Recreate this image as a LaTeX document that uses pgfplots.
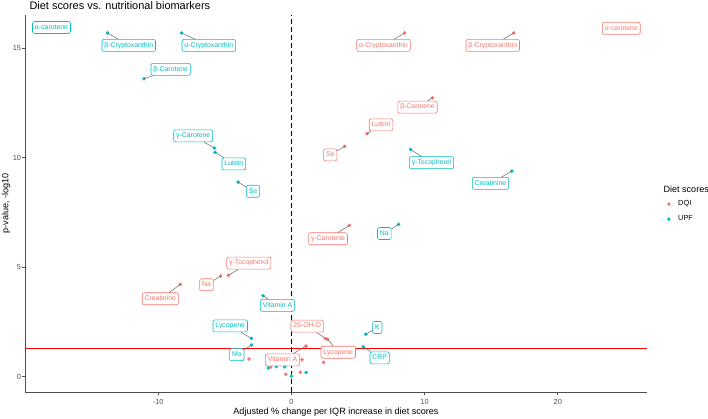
\documentclass[border=0pt]{standalone}
\usepackage{pgfplots}
\pgfplotsset{compat=1.18}
\usepackage{fontspec}
\setmainfont{Liberation Sans}

\definecolor{dqi}{HTML}{F8766D}
\definecolor{upf}{HTML}{00BFC4}
\definecolor{axgray}{HTML}{4D4D4D}

% anchor for a label (l-name) and for its point (p-name), set inside the axis
\newcommand{\at}[5]{\coordinate (l-#1) at (axis cs:#2,#3); \coordinate (p-#1) at (axis cs:#4,#5);}
% label box drawn after the axis: name, colour, text
\newcommand{\lab}[3]{%
  \node[draw=#2, text=#2, fill=white, rounded corners=2bp, line width=0.6bp,
        inner xsep=2.45bp, inner ysep=2.8bp, text height=5bp, text depth=1.4bp,
        font=\fontsize{6.9}{7}\selectfont] (#1) at (l-#1) {#3};}
\newcommand{\seg}[1]{\draw[gray!80!black, line width=0.5bp] (p-#1) -- (#1);}

\begin{document}
\begin{tikzpicture}
\path[use as bounding box] (-25bp,-26.7bp) rectangle (683bp,392.3bp);
\begin{axis}[
  scale only axis,
  width=622bp, height=377.3bp,
  xmin=-20, xmax=26.7,
  ymin=-0.71, ymax=16.52,
  axis x line*=bottom, axis y line*=left,
  axis line style={axgray, line width=0.7bp},
  tick align=outside,
  major tick length=3bp,
  tick style={axgray, line width=0.6bp},
  xtick={-10,0,10,20}, ytick={0,5,10,15},
  /pgf/number format/assume math mode=true,
  ticklabel style={font=\fontsize{7.4}{8}\selectfont, text=axgray},
  xticklabel style={inner ysep=3.5bp},
  yticklabel style={inner xsep=0.8bp},
  clip=false,
  legend style={draw=none, fill=none, at={(axis description cs:1.032,0.479)},
    anchor=west, font=\fontsize{7.4}{8}\selectfont, row sep=4.5bp,
    inner sep=0pt},
  legend cell align=left,
]
% reference lines
\draw[red, line width=0.9bp] (axis cs:-20,1.301) -- (axis cs:26.7,1.301);
\draw[black, line width=1.3bp, dash pattern=on 5bp off 3bp] (axis cs:0,-0.71) -- (axis cs:0,16.52);

% DQI
\addplot[only marks, mark=*, mark size=1.6bp, color=dqi, mark options={draw=dqi, fill=dqi},
  legend image code/.code={\path[draw=none, fill=none] (0,0) -- (9bp,0); \fill[dqi] (1.7bp,0) circle (1.6bp);}]
  coordinates {
  (24.6,15.8) (8.5,15.7) (16.7,15.7) (10.6,12.74) (5.68,11.1) (4.0,10.52)
  (4.35,6.91) (-4.73,4.63) (-5.3,4.6) (-8.33,4.22) (-3.18,0.81)
  (2.58,1.74) (2.72,1.71) (1.1,1.40) (2.42,0.66) (-1.55,0.44)
  (-0.42,0.11) (0.68,0.2) (0.8,0.78)
  };
% UPF
\addplot[only marks, mark=*, mark size=1.6bp, color=upf, mark options={draw=upf, fill=upf},
  legend image code/.code={\path[draw=none, fill=none] (0,0) -- (9bp,0); \fill[upf] (1.7bp,0) circle (1.6bp);}]
  coordinates {
  (-17.9,15.8) (-13.8,15.7) (-8.25,15.7) (-11.07,13.61) (-5.78,10.44)
  (-5.73,10.25) (-4.0,8.89) (-2.13,3.70) (-3.0,1.75) (-3.0,1.45)
  (-1.73,0.40) (-1.13,0.46) (-0.5,0.46) (0.0,0.03) (1.1,0.2)
  (5.58,1.94) (5.4,1.37) (8.05,6.96) (8.95,10.38) (16.55,9.39)
  };
\legend{DQI,UPF}

% label positions and their points
\at{ua}{-18.01}{15.95}{-17.9}{15.8}
\at{ubc}{-12.21}{15.13}{-13.8}{15.7}
\at{uac}{-6.2}{15.13}{-8.25}{15.7}
\at{ubca}{-9.06}{14.04}{-11.07}{13.61}
\at{ugc}{-7.37}{11.0}{-5.78}{10.44}
\at{ulu}{-4.32}{9.72}{-5.73}{10.25}
\at{use}{-2.88}{8.47}{-4.0}{8.89}
\at{uva}{-1.04}{3.26}{-2.13}{3.70}
\at{uly}{-4.59}{2.32}{-3.0}{1.75}
\at{umo}{-4.10}{1.01}{-3.0}{1.45}
\at{uk}{6.45}{2.25}{5.58}{1.94}
\at{ucrp}{6.63}{0.86}{5.4}{1.37}
\at{una}{6.98}{6.54}{8.05}{6.96}
\at{ugt}{10.52}{9.78}{8.95}{10.38}
\at{ucr}{14.95}{8.83}{16.55}{9.39}
\at{da}{24.77}{15.91}{24.6}{15.8}
\at{dac}{6.92}{15.13}{8.5}{15.7}
\at{dbc}{15.12}{15.13}{16.7}{15.7}
\at{dbca}{9.47}{12.31}{10.6}{12.74}
\at{dlu}{6.73}{11.5}{5.68}{11.1}
\at{dse}{2.92}{10.13}{4.0}{10.52}
\at{dgc}{2.75}{6.3}{4.35}{6.91}
\at{dgt}{-3.2}{5.19}{-4.73}{4.63}
\at{dna}{-6.37}{4.2}{-5.3}{4.6}
\at{dcr}{-9.84}{3.56}{-8.33}{4.22}
\at{dvd}{1.19}{2.31}{2.58}{1.74}
\at{dly}{3.52}{1.12}{2.72}{1.71}
\at{dva}{-0.67}{0.77}{1.1}{1.40}
\end{axis}

% labels on top of the points
\lab{ua}{upf}{α-carotene}
\lab{ubc}{upf}{β-Cryptoxanthin}
\lab{uac}{upf}{α-Cryptoxanthin}
\lab{ubca}{upf}{β-Carotene}
\lab{ugc}{upf}{γ-Carotene}
\lab{ulu}{upf}{Lutein}
\lab{use}{upf}{Se}
\lab{uva}{upf}{Vitamin A}
\lab{uly}{upf}{Lycopene}
\lab{umo}{upf}{Mo}
\lab{uk}{upf}{K}
\lab{ucrp}{upf}{CRP}
\lab{una}{upf}{Na}
\lab{ugt}{upf}{γ-Tocopherol}
\lab{ucr}{upf}{Creatinine}
\lab{da}{dqi}{α-carotene}
\lab{dac}{dqi}{α-Cryptoxanthin}
\lab{dbc}{dqi}{β-Cryptoxanthin}
\lab{dbca}{dqi}{β-Carotene}
\lab{dlu}{dqi}{Lutein}
\lab{dse}{dqi}{Se}
\lab{dgc}{dqi}{γ-Carotene}
\lab{dgt}{dqi}{γ-Tocopherol}
\lab{dna}{dqi}{Na}
\lab{dcr}{dqi}{Creatinine}
\lab{dvd}{dqi}{25-OH-D}
\lab{dly}{dqi}{Lycopene}
\lab{dva}{dqi}{Vitamin A}
\foreach \n in {ubc,uac,ubca,ugc,ulu,use,uva,uly,umo,uk,ucrp,una,ugt,ucr,
                dac,dbc,dbca,dlu,dse,dgc,dgt,dna,dcr,dvd,dly,dva} {\seg{\n}}

% title, axis titles, legend title
\node[anchor=base west, font=\fontsize{11}{12}\selectfont] at (1bp,382.8bp) {Diet scores vs. nutritional biomarkers};
\node[font=\fontsize{9.1}{10}\selectfont] at (311bp,-19.4bp) {Adjusted \% change per IQR increase in diet scores};
\node[rotate=90, font=\fontsize{9.1}{10}\selectfont] at (-19bp,188.7bp) {p-value, -log10};
\node[anchor=base west, font=\fontsize{9.1}{10}\selectfont] at (635bp,200bp) {Diet scores};
\end{tikzpicture}
\end{document}
